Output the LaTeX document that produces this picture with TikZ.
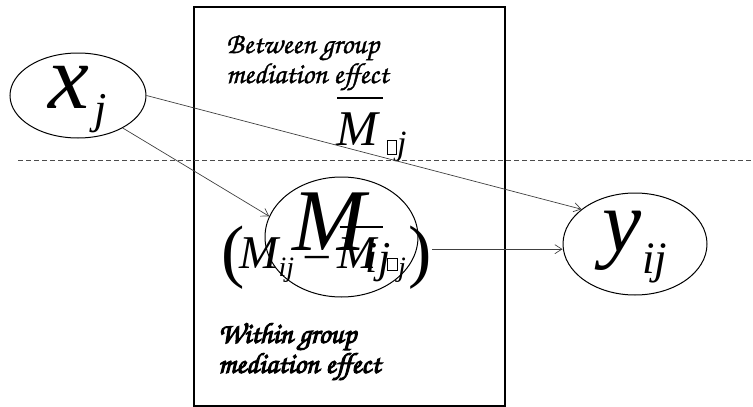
\documentclass[tikz,border=0pt]{standalone}
\usepackage{fontspec}
\setmainfont{Liberation Serif}
\newfontfamily\chorus{texgyrechorus-mediumitalic.otf}[FakeBold=1.2]
\newfontfamily\chorusbold{texgyrechorus-mediumitalic.otf}[FakeBold=3.5]
\usetikzlibrary{arrows.meta,shapes.geometric}
\newcommand\fsz[1]{\fontsize{#1}{#1}\selectfont}
\newsavebox\ovbox
\newcommand\ovbar[3]{\sbox\ovbox{#1}\rlap{\hspace{#3}\rule[#2]{\dimexpr\wd\ovbox+4pt\relax}{1.8pt}}\usebox\ovbox}
\newcommand\nobox[2]{{\fboxsep=0pt\fboxrule=0.6pt\fbox{\rule{0pt}{#2}\hspace{#1}}}}
\begin{document}
\begin{tikzpicture}[x=1pt, y=-1pt, >={Straight Barb[length=7pt,width=9pt]},
  var/.style={draw, ellipse, line width=1pt, inner sep=-6pt},
  link/.style={->, draw=black!75, line width=0.7pt},
  words/.style={align=left, anchor=north west, inner sep=0pt}]
\useasboundingbox (0,0) rectangle (753,407);
\coordinate (boxtl) at (194,7);
\coordinate (boxbr) at (505,406);
\draw[line width=1.4pt] (boxtl) rectangle (boxbr);
\coordinate (divL) at (18,160);
\coordinate (divR) at (753,160);
\draw[dash pattern=on 5pt off 3pt, black!70, line width=0.7pt] (divL) -- (divR);
% variables
\node[var, minimum width=136pt, minimum height=85pt, text height=40pt, text depth=15pt] (xj) at (78,95.5)
  {{\fsz{92}\itshape x}\hspace{5pt}\raisebox{-15pt}{\fsz{44}\itshape j}};
\node[var, minimum width=153pt, minimum height=120pt, text height=45pt, text depth=19pt] (mij) at (341.5,237)
  {{\fsz{88}\itshape M}\raisebox{-22pt}{\fsz{44}\itshape ij}};
\node[var, minimum width=144pt, minimum height=102pt, text height=40pt, text depth=26pt] (yij) at (635,244)
  {{\fsz{88}\itshape y}\raisebox{-22pt}{\fsz{45}\itshape ij}};
% group mean and deviation
\node[anchor=base west, inner sep=0pt] (mbar) at (336,145)
  {\ovbar{\fsz{50}\itshape M}{46pt}{1pt}\hspace{9pt}\raisebox{-9pt}{\nobox{9pt}{13pt}\fsz{34}\itshape j}};
\node[anchor=base west, inner sep=0pt] (dev) at (221,268) {%
  \raisebox{-6pt}{\fsz{70}(}\hspace{-5pt}%
  {\fsz{47}\itshape M}\raisebox{-8pt}{\fsz{28}\itshape ij}\hspace{11pt}%
  {\fsz{47}--}\hspace{9pt}%
  \ovbar{\fsz{47}\itshape M}{40pt}{2pt}\hspace{10pt}%
  \raisebox{-8pt}{\raisebox{6pt}{\nobox{10pt}{11pt}}\fsz{28}\itshape j}\hspace{3pt}%
  \raisebox{-6pt}{\fsz{70})}};
\node[words, font=\chorus\fontsize{29}{30}\selectfont] (between) at (226,35) {Between group\\mediation effect};
\node[words, font=\chorusbold\fontsize{29}{30}\selectfont] (within) at (218,323) {Within group\\mediation effect};
% paths
\draw[link] (xj.east) -- (yij.147);
\draw[link] (xj.-36) -- (mij.164);
\draw[link] ([yshift=8pt]dev.east) -- ([yshift=8pt]dev.east -| yij.west);
\end{tikzpicture}
\end{document}
